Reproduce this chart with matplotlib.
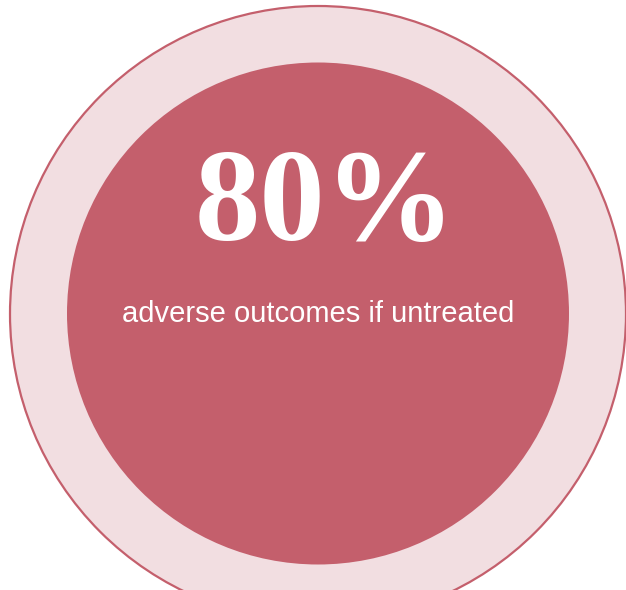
import matplotlib.pyplot as plt
from matplotlib.patches import Circle

# 数据
share = 80  # 百分比
caption = "adverse outcomes if untreated"

ring_color = "#f2dee1"
core_color = "#c45f6c"

fig = plt.figure(figsize=(6.26, 5.90), dpi=100)
ax = fig.add_axes([0, 0, 1, 1])
ax.set_xlim(0, 626)
ax.set_ylim(590, 0)
ax.set_aspect("equal")
ax.axis("off")

# 外圈和内圈
ax.add_patch(Circle((318, 314), 308, facecolor=ring_color, edgecolor=core_color, linewidth=1.6))
ax.add_patch(Circle((318, 313.5), 251, facecolor=core_color, edgecolor="none"))

ax.text(325, 208, f"{share}%", color="white", fontsize=94, fontweight="bold",
        family="Liberation Serif", ha="center", va="center")
ax.text(318, 314, caption, color="white", fontsize=21,
        family="Liberation Sans", ha="center", va="center")

fig.savefig("out.png", dpi=100)
